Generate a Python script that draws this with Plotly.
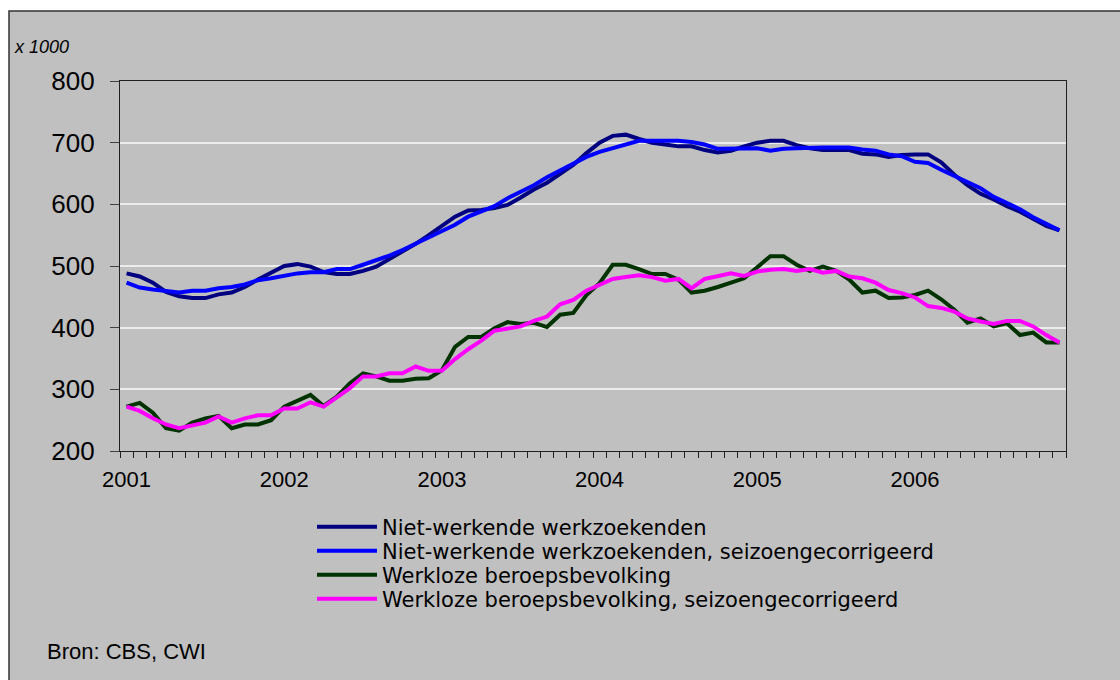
import plotly.graph_objects as go

# ---------------- data ----------------
years = ["2001", "2002", "2003", "2004", "2005", "2006"]
months = [f"{y}-{m:02d}" for y in years for m in range(1, 13)]

niet_werkende = [
    488, 483, 473, 458, 451, 448, 448, 454, 457, 466, 478, 489,
    500, 503, 499, 490, 487, 487, 492, 499, 511, 523, 536, 550,
    566, 580, 590, 591, 594, 599, 611, 624, 635, 649, 664, 683,
    700, 711, 713, 706, 700, 697, 694, 694, 688, 684, 687, 694,
    700, 703, 703, 696, 691, 688, 688, 688, 682, 681, 677, 680,
    681, 681, 668, 648, 631, 617, 608, 597, 588, 576, 565, 558,
]
niet_werkende_sa = [
    473, 465, 462, 460, 457, 460, 460, 464, 466, 470, 477, 480,
    484, 488, 490, 490, 495, 495, 502, 509, 517, 526, 536, 547,
    557, 567, 580, 589, 597, 610, 621, 631, 644, 655, 667, 677,
    685, 691, 698, 703, 703, 703, 703, 701, 697, 690, 690, 691,
    691, 687, 690, 691, 692, 692, 692, 692, 689, 687, 681, 678,
    669, 667, 656, 646, 635, 626, 612, 602, 592, 579, 569, 558,
]
werkloze = [
    272, 278, 262, 237, 233, 246, 253, 257, 237, 243, 243, 250,
    272, 282, 291, 273, 288, 310, 326, 321, 314, 314, 317, 318,
    331, 369, 385, 385, 399, 409, 406, 408, 401, 421, 424, 453,
    472, 502, 502, 495, 487, 487, 478, 457, 460, 466, 473, 480,
    498, 516, 516, 502, 492, 499, 492, 478, 457, 460, 448, 449,
    453, 460, 446, 429, 408, 415, 402, 407, 388, 392, 376, 376,
]
werkloze_sa = [
    272, 265, 253, 243, 237, 241, 246, 256, 246, 253, 258, 258,
    269, 269, 279, 272, 288, 302, 321, 321, 326, 326, 337, 330,
    330, 349, 365, 379, 395, 398, 402, 411, 418, 438, 445, 460,
    469, 479, 482, 485, 482, 476, 479, 464, 479, 483, 488, 484,
    491, 494, 495, 492, 495, 489, 492, 483, 480, 473, 461, 456,
    449, 435, 432, 426, 415, 410, 406, 411, 411, 402, 388, 376,
]

series_names = [
    "Niet-werkende werkzoekenden",
    "Niet-werkende werkzoekenden, seizoengecorrigeerd",
    "Werkloze beroepsbevolking",
    "Werkloze beroepsbevolking, seizoengecorrigeerd",
]
y_ticks = [200, 300, 400, 500, 600, 700, 800]

# ---------------- figure ----------------
W, H = 1120, 680
L, R, T, B = 120, 54, 81, 229
pw, ph = W - L - R, H - T - B


def px_x(p):
    return (p - L) / pw


def px_y(p):
    return (H - B - p) / ph


colors = ["#000080", "#0000ff", "#003300", "#ff00ff"]
legend_ids = ["legend", "legend2", "legend3", "legend4"]
legend_rows = [527, 551, 575, 599]

x_idx = list(range(len(months)))
fig = go.Figure()
all_series = [niet_werkende, niet_werkende_sa, werkloze, werkloze_sa]
for vals, name, col, lg in zip(all_series, series_names, colors, legend_ids):
    fig.add_trace(go.Scatter(
        x=x_idx, y=vals, mode="lines", name=name, legend=lg,
        text=months, hovertemplate="%{text}: %{y}<extra>" + name + "</extra>",
        line=dict(color=col, width=4),
    ))

legend_common = dict(
    bgcolor="rgba(0,0,0,0)", borderwidth=0,
    font=dict(family="DejaVu Sans", size=21, color="#000000"),
    xanchor="left", yanchor="middle", itemwidth=60,
)
layout_legends = {}
for lg, row in zip(legend_ids, legend_rows):
    layout_legends[lg] = dict(legend_common, x=px_x(312), y=px_y(row))

fig.update_layout(
    width=W, height=H,
    margin=dict(l=L, r=R, t=T, b=B, pad=0),
    paper_bgcolor="#ffffff",
    plot_bgcolor="#c0c0c0",
    font=dict(family="Arial, Liberation Sans, sans-serif", color="#000000"),
    showlegend=True,
    **layout_legends,
    xaxis=dict(
        range=[-0.5, len(months) - 0.5],
        tickmode="array",
        tickvals=[12 * i for i in range(len(years))],
        ticktext=years,
        ticks="",
        tickfont=dict(size=22, family="Arial, Liberation Sans, sans-serif"),
        ticklabelstandoff=8,
        showgrid=False,
        zeroline=False,
        showline=True, linecolor="#202020", linewidth=1.2,
        mirror=True,
        minor=dict(
            tickmode="array",
            tickvals=[i - 0.5 for i in range(len(months) + 1)],
            ticks="outside", ticklen=6, tickcolor="#202020", tickwidth=1,
            showgrid=False,
        ),
    ),
    yaxis=dict(
        range=[200, 800],
        tickmode="array",
        tickvals=y_ticks,
        ticks="outside", ticklen=9, tickcolor="#404040", tickwidth=1.2,
        tickfont=dict(size=26, family="Arial, Liberation Sans, sans-serif"),
        ticklabelstandoff=10,
        showgrid=True, gridcolor="#ececec", gridwidth=1.5,
        zeroline=False,
        showline=True, linecolor="#202020", linewidth=1.2,
        mirror=True,
    ),
    shapes=[
        dict(type="rect", xref="paper", yref="paper", layer="below",
             x0=px_x(9), x1=px_x(W + 20), y0=px_y(H + 20), y1=px_y(11),
             fillcolor="#c0c0c0", line=dict(color="#333333", width=1.5)),
    ],
    annotations=[
        dict(text="<i>x 1000</i>", xref="paper", yref="paper", showarrow=False,
             x=px_x(12), y=px_y(47), xanchor="left", yanchor="middle",
             font=dict(size=18, family="Arial, Liberation Sans, sans-serif")),
        dict(text="Bron: CBS, CWI", xref="paper", yref="paper", showarrow=False,
             x=px_x(45), y=px_y(651), xanchor="left", yanchor="middle",
             font=dict(size=22, family="Arial, Liberation Sans, sans-serif")),
    ],
)

fig.write_html(
    "out.html",
    config={"displayModeBar": False},
    post_script="document.body.style.margin='0';document.body.style.overflow='hidden';",
)
